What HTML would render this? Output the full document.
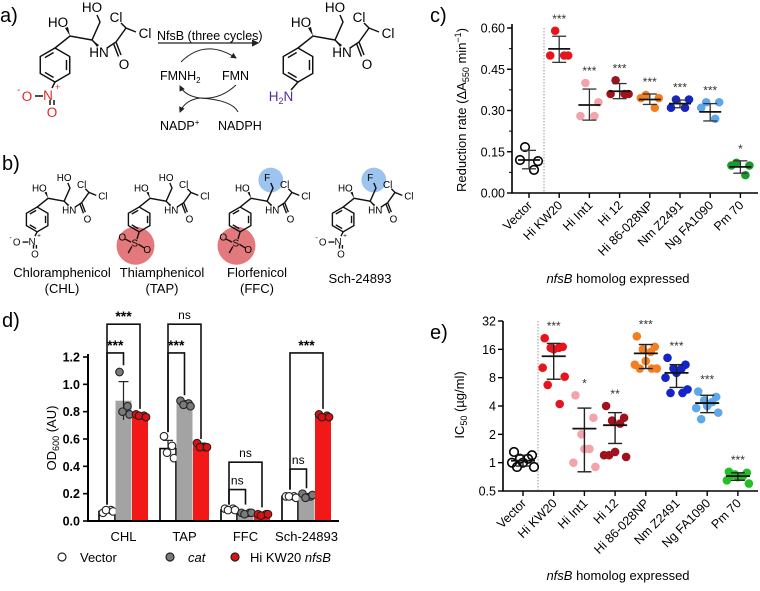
<!DOCTYPE html>
<html><head><meta charset="utf-8">
<style>
html,body{margin:0;padding:0;background:#fff;}
svg{display:block;font-family:"Liberation Sans",Arial,sans-serif;}
</style></head>
<body>
<svg id="fig" width="760" height="591" viewBox="0 0 760 591" xmlns="http://www.w3.org/2000/svg">
<defs>
<marker id="ah" markerWidth="6" markerHeight="6" refX="5" refY="3" orient="auto"><path d="M0,0 L6,3 L0,6 z" fill="#222"/></marker>
</defs>
<g id="panelA"></g>
<g id="panelB"></g>
<g id="panelC"></g>
<g id="panelD"></g>
<g id="panelE"></g>
</svg>
<script>
// ---------- Panel c data ----------
const cCategories = ["Vector","Hi KW20","Hi Int1","Hi 12","Hi 86-028NP","Nm Z2491","Ng FA1090","Pm 70"];
const cPoints = [[0.167,0.116,0.12,0.084],[0.59,0.50,0.50,0.50],[0.40,0.33,0.28,0.28],[0.41,0.36,0.36,0.36],[0.356,0.345,0.345,0.31],[0.34,0.34,0.31,0.31],[0.33,0.33,0.31,0.27],[0.11,0.10,0.10,0.065]];
const cMeans = [0.12,0.524,0.32,0.37,0.34,0.325,0.295,0.095];
const cSdLo = [0.088,0.475,0.265,0.343,0.322,0.31,0.262,0.072];
const cSdHi = [0.155,0.57,0.378,0.398,0.36,0.338,0.325,0.117];
const cStars = ["","***","***","***","***","***","***","*"];
const cTicks = [0,0.15,0.30,0.45,0.60];
const cTickLabels = ["0.00","0.15","0.30","0.45","0.60"];
// ---------- Panel d data ----------
const dGroups = ["CHL","TAP","FFC","Sch-24893"];
const dSeries = ["Vector","cat","Hi KW20 nfsB"];
const dVector = [0.07,0.53,0.08,0.18];
const dCat = [0.88,0.86,0.06,0.18];
const dNfsB = [0.77,0.55,0.05,0.77];
const dVectorPts = [[0.06,0.08,0.08,0.07],[0.62,0.55,0.50,0.46],[0.09,0.09,0.08,0.08],[0.18,0.18,0.18,0.17]];
const dCatPts = [[1.09,0.84,0.80,0.78],[0.88,0.86,0.85,0.84],[0.06,0.06,0.05,0.06],[0.20,0.18,0.17,0.19]];
const dNfsBPts = [[0.78,0.77,0.77,0.76],[0.57,0.54,0.54,0.54],[0.05,0.05,0.04,0.05],[0.78,0.77,0.76,0.76]];
const dErrLo = [[0.06,0.74,0.75],[0.47,0.84,0.53],[0.07,0.05,0.04],[0.17,0.17,0.76]];
const dErrHi = [[0.08,1.02,0.79],[0.59,0.88,0.57],[0.09,0.07,0.06],[0.19,0.20,0.78]];
// brackets: [group, fromSeries, toSeries, levelValue, leftLegEnd, rightLegEnd, label]
const dBrackets = [[0,0,1,1.23,0.12,1.14,"***"],[0,0,2,1.44,0.12,0.82,"***"],[1,0,1,1.23,0.65,0.92,"***"],[1,0,2,1.44,0.65,0.6,"ns"],[2,0,1,0.23,0.12,0.12,"ns"],[2,0,2,0.43,0.12,0.1,"ns"],[3,0,1,0.38,0.23,0.24,"ns"],[3,0,2,1.23,0.23,0.82,"***"]];
const dTicks = [0,0.2,0.4,0.6,0.8,1.0,1.2];
const dTickLabels = ["0.0","0.2","0.4","0.6","0.8","1.0","1.2"];
// ---------- Panel e data ----------
const eCategories = ["Vector","Hi KW20","Hi Int1","Hi 12","Hi 86-028NP","Nm Z2491","Ng FA1090","Pm 70"];
const ePoints = [[1.3,1.2,1.1,1.1,1.0,1.0,0.9,0.9],[21,17,16.6,16.6,16,10.2,8.2,6.7,4.2],[5.2,3.0,2.0,1.4,1.4,1.0,0.9],[4.0,3.0,2.8,2.6,1.3,1.2,1.15,1.2],[22,17,16,15,12,11,10,10,10],[13,11,10,10,9,8,6,5.5,5.5],[5.7,5,4.6,4.4,4,3.8,3.4,2.9],[0.8,0.78,0.75,0.72,0.7,0.65,0.6,0.74]];
const eMeans = [1.05,13.5,2.3,2.5,14.5,9,4.3,0.72];
const eSdLo = [0.92,7.7,0.8,1.6,10,6.3,3.4,0.65];
const eSdHi = [1.2,18.5,3.8,3.4,18,11,5.2,0.78];
const eStars = ["","***","*","**","***","***","***","***"];
const eTicks = [0.5,1,2,4,8,16,32];
const eTickLabels = ["0.5","1","2","4","8","16","32"];

const NS="http://www.w3.org/2000/svg";
function el(parent,tag,attrs,text){const e=document.createElementNS(NS,tag);for(const k in attrs)e.setAttribute(k,attrs[k]);if(text!==undefined)e.textContent=text;parent.appendChild(e);return e;}
const colors=["#000","#e8141c","#f3a3aa","#a0121c","#f28022","#1424c8","#5ea8ea","#1b9a2c"];
const colorsE=["#000","#e8141c","#f3a3aa","#a0121c","#f28022","#1424c8","#5ea8ea","#22c026"];
const jit4=[-4,9,-9,5];
function jitN(i){const p=[-9,9,-3,5,0,-11,11,-6,6];return p[i%p.length];}

// ===== Panel c =====
(function(){
const g=document.getElementById('panelC');
const x0=512,x1=758,yT=28,yB=193;
const y=v=>yB-(v/0.6)*(yB-yT);
const xc=i=>529+i*30.2;
let t=el(g,'text',{x:430,y:22,'font-size':20});t.textContent="c)";

const ax=el(g,'path',{d:`M${x0},${yT-4}V${yB}H${x1}`,stroke:'#000','stroke-width':1.6,fill:'none'});

cTicks.forEach((v,i)=>{el(g,'line',{x1:x0-5,x2:x0,y1:y(v),y2:y(v),stroke:'#000','stroke-width':1.4});
 if(i<cTicks.length-1){const m=(v+cTicks[i+1])/2;el(g,'line',{x1:x0-3,x2:x0,y1:y(m),y2:y(m),stroke:'#000','stroke-width':1});}
 const tl=el(g,'text',{x:x0-7,y:y(v)+4.5,'font-size':12.5,'text-anchor':'end'},cTickLabels[i]);
 });
el(g,'line',{x1:544,x2:544,y1:yT,y2:yB,stroke:'#999','stroke-width':1,'stroke-dasharray':'1.5,1.5'});
const yt=el(g,'text',{x:0,y:0,'font-size':13,'text-anchor':'middle',transform:`translate(466,110) rotate(-90)`});
yt.innerHTML='Reduction rate (ΔA<tspan font-size="9" dy="3">550</tspan><tspan dy="-3"> min</tspan><tspan font-size="9" dy="-5">−1</tspan><tspan dy="5">)</tspan>';

cCategories.forEach((c,i)=>{const X=xc(i);
 el(g,'line',{x1:X,x2:X,y1:yB,y2:yB+5,stroke:'#000','stroke-width':1.4});
 const lab=el(g,'text',{x:0,y:0,'font-size':12.5,'text-anchor':'end',transform:`translate(${X+4},${yB+13}) rotate(-45)`},c);
 
 const col=colors[i];
 cPoints[i].forEach((v,k)=>{const p=el(g,'circle',{cx:X+jit4[k],cy:y(v),r:4.3,fill:i==0?'none':col,stroke:col,'stroke-width':i==0?1.6:0});
  });
 const ec='#333';
 el(g,'line',{x1:X,x2:X,y1:y(cSdLo[i]),y2:y(cSdHi[i]),stroke:ec,'stroke-width':1.3});
 el(g,'line',{x1:X-7,x2:X+7,y1:y(cSdLo[i]),y2:y(cSdLo[i]),stroke:ec,'stroke-width':1.3});
 el(g,'line',{x1:X-7,x2:X+7,y1:y(cSdHi[i]),y2:y(cSdHi[i]),stroke:ec,'stroke-width':1.3});
 const mb=el(g,'line',{x1:X-11,x2:X+11,y1:y(cMeans[i]),y2:y(cMeans[i]),stroke:'#111','stroke-width':1.8});
 
 if(cStars[i]){const top=Math.max(cSdHi[i],...cPoints[i]);const s=el(g,'text',{x:X,y:y(top)-8,'font-size':12,'text-anchor':'middle',fill:'#333'},cStars[i]);
  }
});
const xt=el(g,'text',{x:618,y:283,'font-size':13,'text-anchor':'middle'});
xt.innerHTML='<tspan font-style="italic">nfsB</tspan> homolog expressed';

})();

// ===== Panel d =====
(function(){
const g=document.getElementById('panelD');
const x0=88,x1=339,yT=357,yB=521;
const y=v=>yB-(v/1.2)*(yB-yT);
const bx=(gi,s)=>99+gi*61+s*16.5;
const bw=16;
let t=el(g,'text',{x:2,y:327,'font-size':20},"d)");

const vals=[dVector,dCat,dNfsB], pts=[dVectorPts,dCatPts,dNfsBPts];
const fills=['#fff','#a3a3a3','#f21818'], pf=['#fff','#7a7a7a','#e01010'];
dGroups.forEach((gn,gi)=>{
 for(let s=0;s<3;s++){const X=bx(gi,s);
  const b=el(g,'rect',{x:X,y:y(vals[s][gi]),width:bw,height:yB-y(vals[s][gi]),fill:fills[s],stroke:s==0?'#000':'none','stroke-width':1.6});
  
  const cx=X+bw/2;
  el(g,'line',{x1:cx,x2:cx,y1:y(dErrLo[gi][s]),y2:y(dErrHi[gi][s]),stroke:'#222','stroke-width':1.2});
  el(g,'line',{x1:cx-5,x2:cx+5,y1:y(dErrHi[gi][s]),y2:y(dErrHi[gi][s]),stroke:'#222','stroke-width':1.2});
  pts[s][gi].forEach((v,k)=>{const p=el(g,'circle',{cx:cx+[-4,4,-1,6][k],cy:y(v),r:3.8,fill:pf[s],stroke:'#222','stroke-width':1.1});
   });
 }
 const lab=el(g,'text',{x:bx(gi,1)+bw/2,y:541,'font-size':13,'text-anchor':'middle'},gn);
 
});
const ax=el(g,'path',{d:`M${x0},${yT-3}V${yB}H${x1}`,stroke:'#000','stroke-width':2,fill:'none'});

dTicks.forEach((v,i)=>{el(g,'line',{x1:x0-5,x2:x0,y1:y(v),y2:y(v),stroke:'#000','stroke-width':1.6});
 const tl=el(g,'text',{x:x0-8,y:y(v)+4.5,'font-size':12.5,'font-weight':'bold','text-anchor':'end'},dTickLabels[i]);
 });
const yt=el(g,'text',{x:0,y:0,'font-size':13,'text-anchor':'middle',transform:'translate(56,438) rotate(-90)'});
yt.innerHTML='OD<tspan font-size="9" dy="3">600</tspan><tspan dy="-3"> (AU)</tspan>';

dBrackets.forEach(br=>{const [gi,a,b,lv,le,re,lab]=br;
 const xa=bx(gi,a)+bw/2,xb=bx(gi,b)+bw/2,Y=y(lv);
 const p=el(g,'path',{d:`M${xa},${y(le)}V${Y}H${xb}V${y(re)}`,stroke:'#111','stroke-width':1.6,fill:'none'});
 
 const tx=el(g,'text',{x:(xa+xb)/2,y:Y-(lab=='ns'?5:3),'font-size':lab=='ns'?12:14,'font-weight':lab=='ns'?'normal':'bold','text-anchor':'middle'},lab);
 });
const lg=el(g,'g',{});
const li=[[62,80,'Vector',false],[170,188,'cat',true],[235,250,'Hi KW20 ',false]];
li.forEach((L,s)=>{const c=el(lg,'circle',{cx:L[0],cy:557,r:4,fill:pf[s],stroke:'#222','stroke-width':1.2});
 
 const tx=el(lg,'text',{x:L[1],y:562,'font-size':13,'font-style':L[3]?'italic':'normal'},L[2]);
 if(s==2){el(tx,'tspan',{'font-style':'italic'},'nfsB');}
 });
})();

// ===== Panel e =====
(function(){
const g=document.getElementById('panelE');
const x0=503,x1=758,yT=321,yB=491;
const y=v=>yB-(Math.log2(v/0.5)/6)*(yB-yT);
const xc=i=>523+i*30.7;
let t=el(g,'text',{x:430,y:339,'font-size':20},"e)");

const ax=el(g,'path',{d:`M${x0},${yT}V${yB}H${x1}`,stroke:'#000','stroke-width':1.6,fill:'none'});

eTicks.forEach((v,i)=>{el(g,'line',{x1:x0-5,x2:x0,y1:y(v),y2:y(v),stroke:'#000','stroke-width':1.4});
 const tl=el(g,'text',{x:x0-7,y:y(v)+4.5,'font-size':12.5,'text-anchor':'end'},eTickLabels[i]);
 });
el(g,'line',{x1:538,x2:538,y1:yT,y2:yB,stroke:'#999','stroke-width':1,'stroke-dasharray':'1.5,1.5'});
const yt=el(g,'text',{x:0,y:0,'font-size':13,'text-anchor':'middle',transform:'translate(464,405) rotate(-90)'});
yt.innerHTML='IC<tspan font-size="9" dy="3">50</tspan><tspan dy="-3"> (µg/ml)</tspan>';

eCategories.forEach((c,i)=>{const X=xc(i);
 el(g,'line',{x1:X,x2:X,y1:yB,y2:yB+5,stroke:'#000','stroke-width':1.4});
 const lab=el(g,'text',{x:0,y:0,'font-size':12.5,'text-anchor':'end',transform:`translate(${X+4},${yB+13}) rotate(-45)`},c);
 
 const col=colorsE[i];
 ePoints[i].forEach((v,k)=>{const p=el(g,'circle',{cx:X+jitN(k),cy:y(v),r:4.3,fill:i==0?'none':col,stroke:col,'stroke-width':i==0?1.6:0});
  });
 const ec='#222';
 el(g,'line',{x1:X,x2:X,y1:y(eSdLo[i]),y2:y(eSdHi[i]),stroke:ec,'stroke-width':1.4});
 el(g,'line',{x1:X-7,x2:X+7,y1:y(eSdLo[i]),y2:y(eSdLo[i]),stroke:ec,'stroke-width':1.4});
 el(g,'line',{x1:X-7,x2:X+7,y1:y(eSdHi[i]),y2:y(eSdHi[i]),stroke:ec,'stroke-width':1.4});
 const mb=el(g,'line',{x1:X-12,x2:X+12,y1:y(eMeans[i]),y2:y(eMeans[i]),stroke:'#111','stroke-width':1.8});
 
 if(eStars[i]){const top=Math.max(eSdHi[i],...ePoints[i]);const s=el(g,'text',{x:X,y:y(top)-8,'font-size':12,'text-anchor':'middle',fill:'#333'},eStars[i]);
  }
});
const xt=el(g,'text',{x:618,y:580,'font-size':13,'text-anchor':'middle'});
xt.innerHTML='<tspan font-style="italic">nfsB</tspan> homolog expressed';

})();

// ===== Molecules =====
function molecule(parent,ox,oy,s,opt){
 const g=el(parent,'g',{transform:`translate(${ox},${oy}) scale(${s})`});
 
 if(opt.redCircle){el(g,'circle',{cx:50,cy:101,r:26,fill:'#e06a6e',opacity:0.9});}
 if(opt.blueCircle){el(g,'circle',{cx:97,cy:11,r:17,fill:'#9cc4ee'});}
 const st={stroke:'#111','stroke-width':1.3/s*0.9+0.3,fill:'none'};
 const cx=55,cy=65,r=17,V=[];
 for(let k=0;k<6;k++){const a=(-90+60*k)*Math.PI/180;V.push([cx+r*Math.cos(a),cy+r*Math.sin(a)]);}
 let d='M'+V.map(p=>p.join(',')).join('L')+'Z';
 el(g,'path',Object.assign({d},st));
 [[1,2],[3,4],[5,0]].forEach(([a,b])=>{const p=V[a],q=V[b];const f=0.78;
  const P=[cx+(p[0]-cx)*f,cy+(p[1]-cy)*f],Q=[cx+(q[0]-cx)*f,cy+(q[1]-cy)*f];
  el(g,'path',Object.assign({d:`M${P[0]+(Q[0]-P[0])*0.12},${P[1]+(Q[1]-P[1])*0.12}L${Q[0]-(Q[0]-P[0])*0.12},${Q[1]-(Q[1]-P[1])*0.12}`},st));});
 const fs=13.5;
 el(g,'path',Object.assign({d:'M55,48L70,36L92,40L100,22L97,15 M92,40 L97,45 M107,48L116,42L126,28L121,23 M126,28L136,32 M116,42L121,55 M113.5,43.5L118.5,56.5'},st));
 el(g,'path',{d:'M70,36L65,28L68,27z',fill:'#111'});
 el(g,'path',{d:'M92,40L97,47L99,45z',fill:'#111'});
 el(g,'text',{x:58,y:27,'font-size':fs,'text-anchor':'middle'},'HO');
 el(g,'text',{x:92,y:12,'font-size':fs,'text-anchor':'middle'},opt.fluoro?'F':'HO');
 el(g,'text',{x:99,y:57,'font-size':fs,'text-anchor':'middle'},'HN');
 el(g,'text',{x:124,y:69,'font-size':fs,'text-anchor':'middle'},'O');
 el(g,'text',{x:116,y:22,'font-size':fs,'text-anchor':'middle'},'Cl');
 el(g,'text',{x:145,y:38,'font-size':fs,'text-anchor':'middle'},'Cl');
 if(opt.sub=='nitro'){
  el(g,'path',Object.assign({d:'M55,82L52,88 M43,96L35,96 M54,100L54,105 M50,100L50,105'},st));
  el(g,'text',{x:48,y:100,'font-size':fs,'text-anchor':'middle',fill:opt.color},'N');
  el(g,'text',{x:55,y:90,'font-size':9,fill:opt.color},'+');
  el(g,'text',{x:27,y:101,'font-size':fs,'text-anchor':'middle',fill:opt.color},'O');
  el(g,'text',{x:17,y:93,'font-size':10,fill:opt.color},'-');
  el(g,'text',{x:52,y:117,'font-size':fs,'text-anchor':'middle',fill:opt.color},'O');
 } else if(opt.sub=='sulfonyl'){
  el(g,'path',Object.assign({d:'M55,82L52,92 M45,102L40,111 M44,96L36,92 M54,99L62,104'},st));
  el(g,'text',{x:49,y:102,'font-size':fs,'text-anchor':'middle'},'S');
  el(g,'text',{x:32,y:94,'font-size':fs,'text-anchor':'middle'},'O');
  el(g,'text',{x:66,y:111,'font-size':fs,'text-anchor':'middle'},'O');
 } else if(opt.sub=='amine'){
  el(g,'path',Object.assign({d:'M55,82L48,90'},st));
  const t=el(g,'text',{x:38,y:101,'font-size':fs,'text-anchor':'middle',fill:'#5a2a9a'});
  t.innerHTML='H<tspan font-size="9" dy="3">2</tspan><tspan dy="-3">N</tspan>';
 }
 return g;
}
// Panel a
(function(){
const g=document.getElementById('panelA');
const t=el(g,'text',{x:0,y:22,'font-size':20},'a)');
molecule(g,0,0,1,{sub:'nitro',color:'#e3262b',name:'chloramphenicol-structure'});
molecule(g,243,0,1,{sub:'amine',name:'amine-product-structure'});
const ar=el(g,'line',{x1:158,y1:43,x2:258,y2:43,stroke:'#222','stroke-width':1.2,'marker-end':'url(#ah)'});

el(g,'text',{x:157,y:40,'font-size':12.5},'NfsB (three cycles)');
el(g,'path',{d:'M181,62 Q205,38 236,58',stroke:'#222','stroke-width':1,fill:'none','marker-end':'url(#ah)'});
el(g,'path',{d:'M236,85 Q220,100 200,98 Q185,96 180,86',stroke:'#222','stroke-width':1,fill:'none','marker-end':'url(#ah)'});
el(g,'path',{d:'M200,98 Q185,100 180,112',stroke:'#222','stroke-width':1,fill:'none','marker-end':'url(#ah)'});
el(g,'path',{d:'M200,98 Q232,100 238,112',stroke:'#222','stroke-width':1,fill:'none'});
const a1=el(g,'text',{x:160,y:80,'font-size':12.5});a1.innerHTML='FMNH<tspan font-size="8" dy="3">2</tspan>';
el(g,'text',{x:222,y:80,'font-size':12.5},'FMN');
const a2=el(g,'text',{x:160,y:130,'font-size':12.5});a2.innerHTML='NADP<tspan font-size="8" dy="-5">+</tspan>';
el(g,'text',{x:218,y:130,'font-size':12.5},'NADPH');
})();
// Panel b
(function(){
const g=document.getElementById('panelB');
const t=el(g,'text',{x:2,y:170,'font-size':20},'b)');
const s=0.73;
const mols=[[ -3,'nitro',false,'Chloramphenicol','(CHL)',62],[99,'sulfonyl',false,'Thiamphenicol','(TAP)',162],[200,'sulfonyl',true,'Florfenicol','(FFC)',257],[303,'nitro',true,'Sch-24893','',360]];
mols.forEach(m=>{
 molecule(g,m[0],172,s,{sub:m[1],fluoro:m[2],redCircle:m[1]=='sulfonyl',blueCircle:m[2],color:'#111',name:'structure-'+m[3].toLowerCase()});
 const n=el(g,'text',{x:m[5],y:m[4]?277:283,'font-size':13,'text-anchor':'middle'},m[3]);
 
 if(m[4]){el(g,'text',{x:m[5],y:293,'font-size':13,'text-anchor':'middle'},m[4]);}
});
})();
</script>
</body></html>
